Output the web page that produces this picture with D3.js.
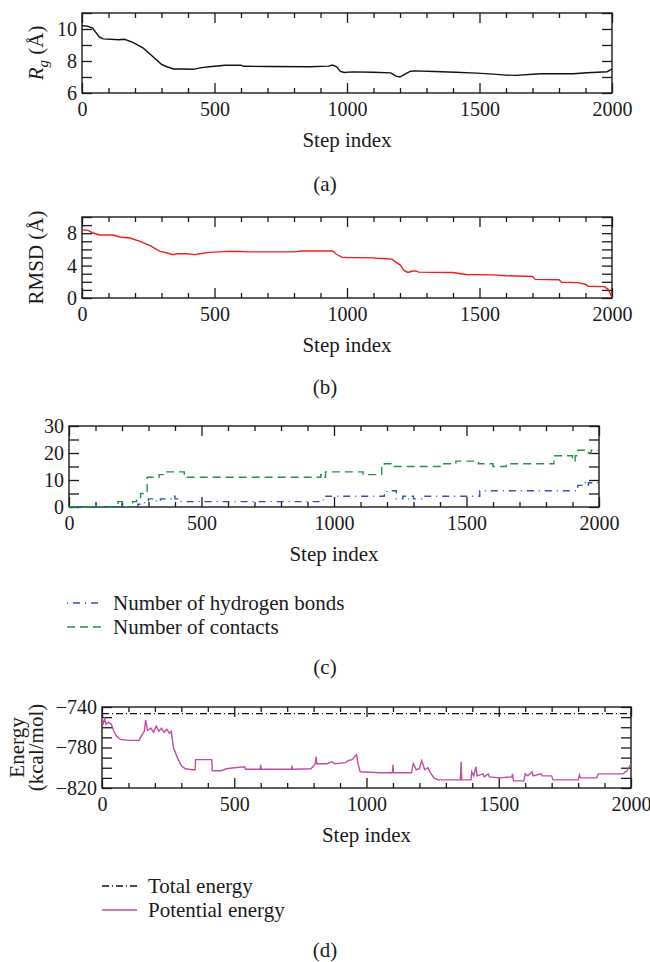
<!DOCTYPE html>
<html lang="en">
<head>
<meta charset="UTF-8">
<title>Trajectory analysis</title>
<script src="https://d3js.org/d3.v7.min.js"></script>
<style>
    body { margin: 0; background: #fff; }
    text { font-family: "Liberation Serif", "Times New Roman", serif; fill: #1a1a1a; }
</style>
</head>
<body>
<svg width="650" height="962"></svg>
<script>
// x axis ticks shared by all four panels
const stepMajor = [0, 500, 1000, 1500, 2000];
const stepMinor = d3.range(0, 2001, 100);

// (a) radius of gyration
const rgSteps  = [0, 20, 40, 65, 80, 140, 160, 190, 230, 268, 300, 320, 345, 380, 420, 445, 480, 540, 600, 610, 700, 860, 930, 945, 960, 975, 990, 1020, 1100, 1165, 1185, 1200, 1215, 1240, 1255, 1330, 1410, 1490, 1552, 1600, 1635, 1729, 1854, 1906, 1982, 2000];
const rgValues = [10.2, 10.18, 10.05, 9.5, 9.38, 9.33, 9.36, 9.18, 8.82, 8.26, 7.79, 7.64, 7.5, 7.5, 7.48, 7.57, 7.64, 7.73, 7.74, 7.67, 7.66, 7.64, 7.68, 7.75, 7.65, 7.35, 7.28, 7.32, 7.3, 7.26, 7.05, 7.0, 7.15, 7.36, 7.38, 7.34, 7.3, 7.24, 7.18, 7.12, 7.1, 7.2, 7.2, 7.27, 7.33, 7.5];

// (b) RMSD
const rmsdSteps  = [0, 23, 42, 67, 118, 143, 181, 219, 257, 294, 319, 344, 357, 395, 426, 445, 482, 550, 600, 620, 800, 830, 930, 945, 960, 980, 1000, 1100, 1110, 1150, 1170, 1185, 1200, 1215, 1230, 1245, 1260, 1270, 1400, 1430, 1450, 1550, 1600, 1700, 1710, 1800, 1810, 1870, 1900, 1910, 1970, 1985, 2000];
const rmsdValues = [8.43, 8.35, 8.02, 7.78, 7.78, 7.53, 7.41, 6.99, 6.46, 5.75, 5.59, 5.35, 5.47, 5.47, 5.35, 5.47, 5.63, 5.75, 5.75, 5.7, 5.7, 5.8, 5.8, 5.8, 5.4, 5.05, 5.0, 4.95, 4.9, 4.85, 4.8, 4.4, 4.1, 3.4, 3.15, 3.3, 3.35, 3.2, 3.15, 3.0, 2.9, 2.85, 2.75, 2.65, 2.3, 2.25, 1.95, 1.9, 1.7, 1.45, 1.4, 1.1, 0.1];

// (c) hydrogen bonds and contacts (integer counts, held until next step)
const hbSteps  = [0, 185, 200, 260, 285, 300, 330, 345, 385, 400, 410, 960, 1190, 1200, 1235, 1260, 1270, 1290, 1300, 1330, 1550, 1920, 1935, 1950, 1960, 2000];
const hbValues = [0, 2, 0, 1, 2, 3, 2, 3, 4, 3, 2, 4, 5, 6, 3, 4, 3, 4, 3, 4, 6, 8, 9, 8, 9, 9];
const contactSteps  = [0, 185, 200, 240, 255, 270, 295, 340, 360, 435, 950, 960, 968, 1110, 1180, 1190, 1215, 1400, 1420, 1460, 1545, 1600, 1650, 1830, 1900, 1910, 1920, 1960, 1970, 2000];
const contactValues = [0, 2, 0, 2, 3, 5, 11, 12, 13, 11, 12, 11, 13, 12, 15, 16, 15, 16, 16, 17, 16, 15, 16, 19, 17, 19, 21, 20, 21, 21];

// (d) energies (kcal/mol)
const totalSteps  = [0, 2000];
const totalValues = [-746.5, -746.5];
const potSteps  = [0, 5, 10, 15, 25, 35, 45, 55, 70, 100, 140, 150, 160, 165, 172, 185, 195, 205, 215, 225, 235, 245, 255, 262, 270, 285, 300, 315, 340, 352, 354, 415, 417, 450, 470, 500, 540, 542, 598, 600, 602, 716, 718, 720, 790, 800, 806, 810, 812, 850, 870, 880, 920, 930, 945, 955, 962, 969, 976, 1050, 1098, 1100, 1102, 1170, 1177, 1188, 1200, 1209, 1220, 1232, 1240, 1255, 1270, 1355, 1358, 1360, 1395, 1398, 1405, 1414, 1418, 1440, 1445, 1460, 1465, 1500, 1550, 1552, 1556, 1595, 1600, 1610, 1626, 1630, 1660, 1665, 1700, 1705, 1800, 1805, 1808, 1870, 1877, 1940, 1970, 1985, 2000];
const potValues = [-751, -756, -752, -757, -755, -757, -764, -769, -772, -773, -773, -768, -764, -753, -763, -761, -765, -759, -764, -761, -765, -762, -766, -764, -780, -790, -798, -801, -802, -802, -792, -792, -803, -803, -801, -800, -799, -801.5, -801.5, -797, -801.5, -801.5, -798, -801.5, -801, -798, -796, -789, -796, -796, -794, -796, -795, -793, -792, -789, -787, -797, -804, -805, -805, -797, -805, -805, -796, -802, -801, -793, -802, -800, -804, -810, -812, -812, -794, -812, -812, -804, -808, -799, -808, -806, -809, -806, -809, -810, -809, -806, -813, -813, -806, -808, -804, -808, -806, -808, -808, -812, -812, -807, -810, -810, -806, -806, -806, -803, -796];

const svg = d3.select("svg");
const ink = "#1a1a1a";
const wordSize = 21;

function zip(xs, ys) { return xs.map((s, i) => [s, ys[i]]); }
function fmt(d) { return String(d).replace("-", "\u2212"); }

// frame with inward ticks on all four sides
function panel(box, yDomain, yTicks, yLabels) {
    const x = d3.scaleLinear().domain([0, 2000]).range([box.left, box.right]);
    const y = d3.scaleLinear().domain(yDomain).range([box.bottom, box.top]);
    const g = svg.append("g");

    const yFmt = d => yLabels.includes(d) ? fmt(d) : "";
    const minorX = stepMinor.filter(d => !stepMajor.includes(d));

    g.append("g").attr("transform", `translate(0,${box.bottom})`)
        .call(d3.axisBottom(x).tickValues(stepMajor).tickSize(-10).tickPadding(9).tickFormat(fmt));
    g.append("g").attr("transform", `translate(0,${box.bottom})`)
        .call(d3.axisBottom(x).tickValues(minorX).tickSize(-5).tickFormat(""));
    g.append("g").attr("transform", `translate(0,${box.top})`)
        .call(d3.axisTop(x).tickValues(stepMajor).tickSize(-10).tickFormat(""));
    g.append("g").attr("transform", `translate(0,${box.top})`)
        .call(d3.axisTop(x).tickValues(minorX).tickSize(-5).tickFormat(""));
    g.append("g").attr("transform", `translate(${box.left},0)`)
        .call(d3.axisLeft(y).tickValues(yTicks).tickSize(-10).tickPadding(5).tickFormat(yFmt));
    g.append("g").attr("transform", `translate(${box.right},0)`)
        .call(d3.axisRight(y).tickValues(yTicks).tickSize(-10).tickFormat(""));

    g.selectAll(".domain").remove();
    g.selectAll(".tick line").attr("stroke", ink).attr("stroke-width", 1.3);
    g.selectAll(".tick text").attr("font-size", 20).attr("fill", ink)
        .attr("font-family", '"Liberation Serif", serif');

    g.append("rect")
        .attr("x", box.left).attr("y", box.top)
        .attr("width", box.right - box.left).attr("height", box.bottom - box.top)
        .attr("fill", "none").attr("stroke", ink).attr("stroke-width", 1.4);

    svg.append("text")
        .attr("x", (box.left + box.right) / 2).attr("y", box.bottom + 54)
        .attr("text-anchor", "middle").attr("font-size", wordSize)
        .text("Step index");

    return { x, y };
}

function series(sc, steps, values, color, dash, curve) {
    const line = d3.line().x(d => sc.x(d[0])).y(d => sc.y(d[1])).curve(curve || d3.curveLinear);
    svg.append("path")
        .datum(zip(steps, values))
        .attr("fill", "none")
        .attr("stroke", color)
        .attr("stroke-width", 1.4)
        .attr("stroke-dasharray", dash || null)
        .attr("d", line);
}

function caption(label, yPos) {
    svg.append("text").attr("x", 325).attr("y", yPos)
        .attr("text-anchor", "middle").attr("font-size", wordSize).text(label);
}

function legend(items, x0, y0) {
    items.forEach((it, i) => {
        const yy = y0 + i * 24;
        svg.append("line")
            .attr("x1", x0).attr("x2", x0 + 35).attr("y1", yy).attr("y2", yy)
            .attr("stroke", it.color).attr("stroke-width", 1.4)
            .attr("stroke-dasharray", it.dash || null);
        svg.append("text").attr("x", x0 + 46).attr("y", yy + 7)
            .attr("font-size", wordSize).text(it.label);
    });
}

// (a)
const boxA = { left: 82, right: 612, top: 13, bottom: 93 };
const scA = panel(boxA, [6, 11], [6, 7, 8, 9, 10, 11], [6, 8, 10]);
series(scA, rgSteps, rgValues, "#111");
const tA = svg.append("text").attr("transform", `translate(43,${(boxA.top + boxA.bottom) / 2}) rotate(-90)`)
    .attr("text-anchor", "middle").attr("font-size", wordSize);
tA.append("tspan").attr("font-style", "italic").text("R");
tA.append("tspan").attr("font-style", "italic").attr("font-size", 15).attr("dy", 5).text("g");
tA.append("tspan").attr("dy", -5).text(" (Å)");
caption("(a)", 191);

// (b)
const boxB = { left: 82, right: 612, top: 217, bottom: 298 };
const scB = panel(boxB, [0, 10], d3.range(0, 11), [0, 4, 8]);
series(scB, rmsdSteps, rmsdValues, "#f21d1d");
svg.append("text").attr("transform", `translate(43,${(boxB.top + boxB.bottom) / 2}) rotate(-90)`)
    .attr("text-anchor", "middle").attr("font-size", wordSize).text("RMSD (Å)");
caption("(b)", 394);

// (c)
const boxC = { left: 69, right: 599, top: 426, bottom: 507 };
const scC = panel(boxC, [0, 30], [0, 5, 10, 15, 20, 25, 30], [0, 10, 20, 30]);
series(scC, hbSteps, hbValues, "#3150b4", "1,5,7,5", d3.curveStepAfter);
series(scC, contactSteps, contactValues, "#1e9448", "8,5", d3.curveStepAfter);
legend([
    { label: "Number of hydrogen bonds", color: "#3150b4", dash: "1,5,7,5" },
    { label: "Number of contacts", color: "#1e9448", dash: "8,5" }
], 67, 603);
caption("(c)", 674);

// (d)
const boxD = { left: 102, right: 631, top: 707, bottom: 788 };
const scD = panel(boxD, [-820, -740], d3.range(-820, -739, 10), [-820, -780, -740]);
series(scD, totalSteps, totalValues, "#111", "7,3,1,3");
series(scD, potSteps, potValues, "#c04ca6");
const tD = svg.append("text").attr("transform", `translate(0,${(boxD.top + boxD.bottom) / 2}) rotate(-90)`)
    .attr("text-anchor", "middle").attr("font-size", wordSize);
tD.append("tspan").attr("x", 0).attr("y", 24).text("Energy");
tD.append("tspan").attr("x", 0).attr("y", 43).text("(kcal/mol)");
legend([
    { label: "Total energy", color: "#111", dash: "7,3,1,3" },
    { label: "Potential energy", color: "#c04ca6" }
], 102, 886);
caption("(d)", 957);
</script>
</body>
</html>
